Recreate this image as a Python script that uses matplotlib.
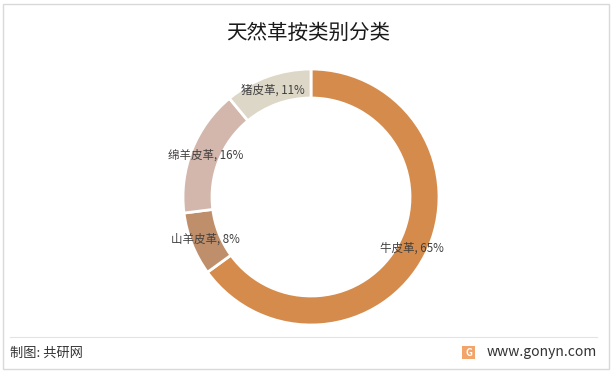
import matplotlib
matplotlib.use("Agg")
import matplotlib.pyplot as plt
from matplotlib.patches import Rectangle

plt.rcParams['font.family'] = ['Noto Sans CJK SC', 'DejaVu Sans']

title = "天然革按类别分类"
categories = ["牛皮革", "山羊皮革", "绵羊皮革", "猪皮革"]
values = [65, 8, 16, 11]
colors = ["#D58B4C", "#BF8F6B", "#D3B7AC", "#DDD7C7"]

W, H = 613, 373
fig = plt.figure(figsize=(W / 100, H / 100), dpi=100)
ax = fig.add_axes([0, 0, 1, 1])

# outer border
ax.add_patch(Rectangle((3, H - 369), 606, 365, fill=False, edgecolor="#D9D9D9", lw=1))

labels = [f"{c}, {v}%" for c, v in zip(categories, values)]
wedges, texts = ax.pie(values, labels=labels, colors=colors, startangle=90,
                       counterclock=False, radius=128, center=(311, H - 197),
                       labeldistance=0.885,
                       wedgeprops=dict(width=29, edgecolor="white", linewidth=2),
                       textprops=dict(fontsize=8.3, color="#404040"), frame=True)
for t in texts:
    t.set_horizontalalignment('center')
    t.set_verticalalignment('center')
ax.set_xlim(0, W)
ax.set_ylim(0, H)
ax.set_aspect('equal')
ax.axis('off')

ax.text(W / 2 + 2, H - 33, title, ha='center', va='center', fontsize=14.8, color="#1a1a1a")

# footer
ax.plot([10, 597], [H - 337, H - 337], color="#E3E3E3", lw=0.8)
ax.text(10, H - 353, "制图: 共研网", ha='left', va='center', fontsize=9.5, color="#333333")
ax.text(597, H - 352, "www.gonyn.com", ha='right', va='center', fontsize=10, color="#333333")
ax.add_patch(Rectangle((462, H - 359), 13, 13, facecolor="#F2A46B", edgecolor="none"))
ax.text(468.5, H - 352.5, "G", ha='center', va='center', fontsize=7, color="white", fontweight='bold')

fig.savefig("out.png", dpi=100)
